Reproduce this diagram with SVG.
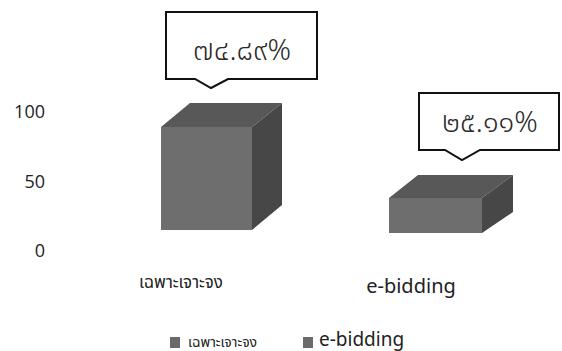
<svg xmlns="http://www.w3.org/2000/svg" width="562" height="351" viewBox="0 0 562 351">
<style>
.axis{font-family:"Open Sans","Liberation Sans",sans-serif;font-size:18px;fill:#222}
.callout{fill:#fff;stroke:#111;stroke-width:2}
.ctext{font-family:"Noto Sans","Noto Sans Thai",sans-serif;font-size:29px;font-weight:300;fill:#2a2a2a;text-anchor:middle}
.front{fill:#6e6e6e}
.top{fill:#585858}
.side{fill:#474747}
.cat{font-family:"Noto Sans","Noto Sans Thai",sans-serif;fill:#222}
.leg{fill:#6a6a6a}
</style>
<rect width="562" height="351" fill="#fff"/>
<g id="axis">
<text class="axis" x="45" y="118" text-anchor="end">100</text>
<text class="axis" x="45" y="188" text-anchor="end">50</text>
<text class="axis" x="45" y="257" text-anchor="end">0</text>
</g>
<g id="bar1">
<polygon class="top" points="161,127 190,103 282,103 252,127"/>
<polygon class="side" points="252,127 282,103 282,205 252,230"/>
<rect class="front" x="161" y="127" width="91" height="103"/>
</g>
<g id="bar2">
<polygon class="top" points="389,198 418,175 513,175 482,198"/>
<polygon class="side" points="482,198 513,175 513,212 482,233"/>
<rect class="front" x="389" y="198" width="93" height="35"/>
</g>
<g id="callout1">
<path class="callout" d="M166,12 H317 V79 H228 L211,88 L195,79 H166 Z"/>
<text class="ctext" x="242" y="60">๗๔.๘๙%</text>
</g>
<g id="callout2">
<path class="callout" d="M419,93 H559 V150 H480 L462,160 L445,150 H419 Z"/>
<text class="ctext" x="490" y="132">๒๕.๑๑%</text>
</g>
<g id="categories">
<text class="cat" x="181" y="288" font-size="17" text-anchor="middle">เฉพาะเจาะจง</text>
<text class="cat" x="411" y="293" font-size="20" text-anchor="middle">e-bidding</text>
</g>
<g id="legend">
<rect class="leg" x="170" y="337" width="10" height="11"/>
<text class="cat" x="188" y="347" font-size="14">เฉพาะเจาะจง</text>
<rect class="leg" x="303" y="337" width="10" height="11"/>
<text class="cat" x="319" y="346" font-size="19">e-bidding</text>
</g>
</svg>
